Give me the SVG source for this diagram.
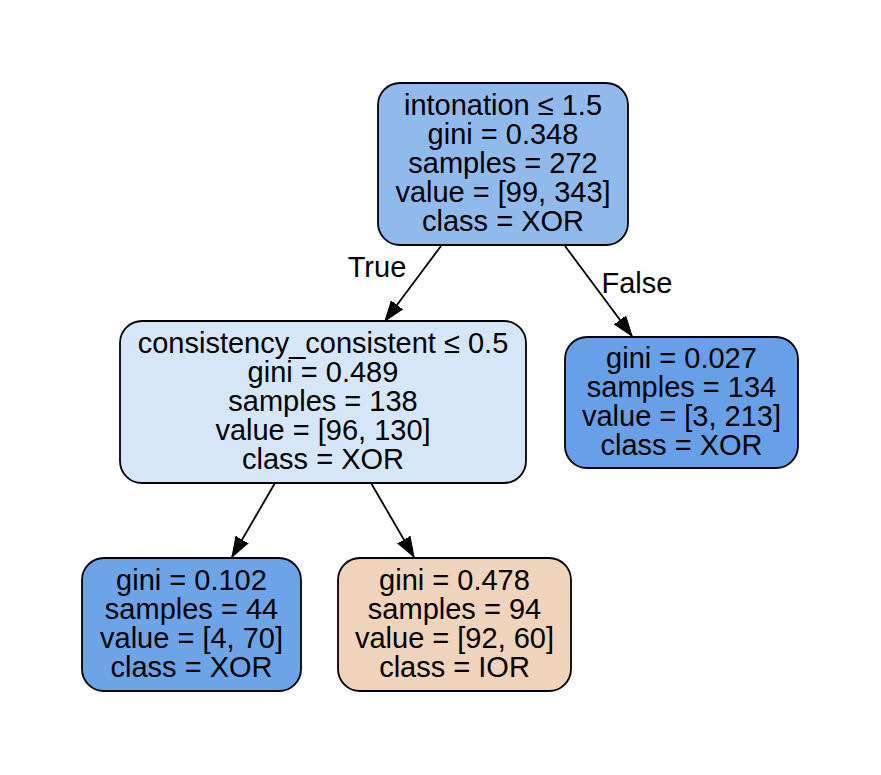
<svg xmlns="http://www.w3.org/2000/svg" width="881" height="775" viewBox="0 0 881 775">
<style>
.node rect{stroke:#000;stroke-width:1.8}
text{font-family:"Liberation Sans",Arial,Helvetica,sans-serif;font-size:29px;fill:#000;text-anchor:middle}
.edge line{stroke:#000;stroke-width:1.8}
</style>
<defs>
<marker id="arr" markerUnits="userSpaceOnUse" markerWidth="22" markerHeight="16" viewBox="0 -8 22 16" refX="20" refY="0" orient="auto">
<path d="M0,-7 L20,0 L0,7 z" fill="#000" stroke="#000" stroke-width="1"/>
</marker>
</defs>
<rect width="881" height="775" fill="#fff"/>
<g id="connectors" class="edge">
<line x1="441" y1="246" x2="385" y2="321" marker-end="url(#arr)"/>
<line x1="565" y1="246" x2="632" y2="336" marker-end="url(#arr)"/>
<line x1="275" y1="483" x2="232" y2="557" marker-end="url(#arr)"/>
<line x1="371" y1="483" x2="414" y2="557" marker-end="url(#arr)"/>
<text x="377" y="277">True</text>
<text x="637" y="293">False</text>
</g>
<g id="node0" class="node">
<rect x="378" y="83" width="250" height="162" rx="22" fill="#90b9ec"/>
<text x="503" y="115">intonation ≤ 1.5</text>
<text x="503" y="144">gini = 0.348</text>
<text x="503" y="173">samples = 272</text>
<text x="503" y="202">value = [99, 343]</text>
<text x="503" y="231">class = XOR</text>
</g>
<g id="node1" class="node">
<rect x="120" y="321" width="406" height="162" rx="22" fill="#d6e6f9"/>
<text x="323" y="353">consistency_consistent ≤ 0.5</text>
<text x="323" y="382">gini = 0.489</text>
<text x="323" y="411">samples = 138</text>
<text x="323" y="440">value = [96, 130]</text>
<text x="323" y="469">class = XOR</text>
</g>
<g id="node2" class="node">
<rect x="565" y="337" width="233" height="131" rx="22" fill="#67a0e6"/>
<text x="681.5" y="368">gini = 0.027</text>
<text x="681.5" y="397">samples = 134</text>
<text x="681.5" y="426">value = [3, 213]</text>
<text x="681.5" y="455">class = XOR</text>
</g>
<g id="node3" class="node">
<rect x="82" y="558" width="219" height="133" rx="22" fill="#6ca4e7"/>
<text x="191.5" y="590">gini = 0.102</text>
<text x="191.5" y="619">samples = 44</text>
<text x="191.5" y="648">value = [4, 70]</text>
<text x="191.5" y="677">class = XOR</text>
</g>
<g id="node4" class="node">
<rect x="338" y="558" width="233" height="133" rx="22" fill="#efd3bb"/>
<text x="454.5" y="590">gini = 0.478</text>
<text x="454.5" y="619">samples = 94</text>
<text x="454.5" y="648">value = [92, 60]</text>
<text x="454.5" y="677">class = IOR</text>
</g>
</svg>
